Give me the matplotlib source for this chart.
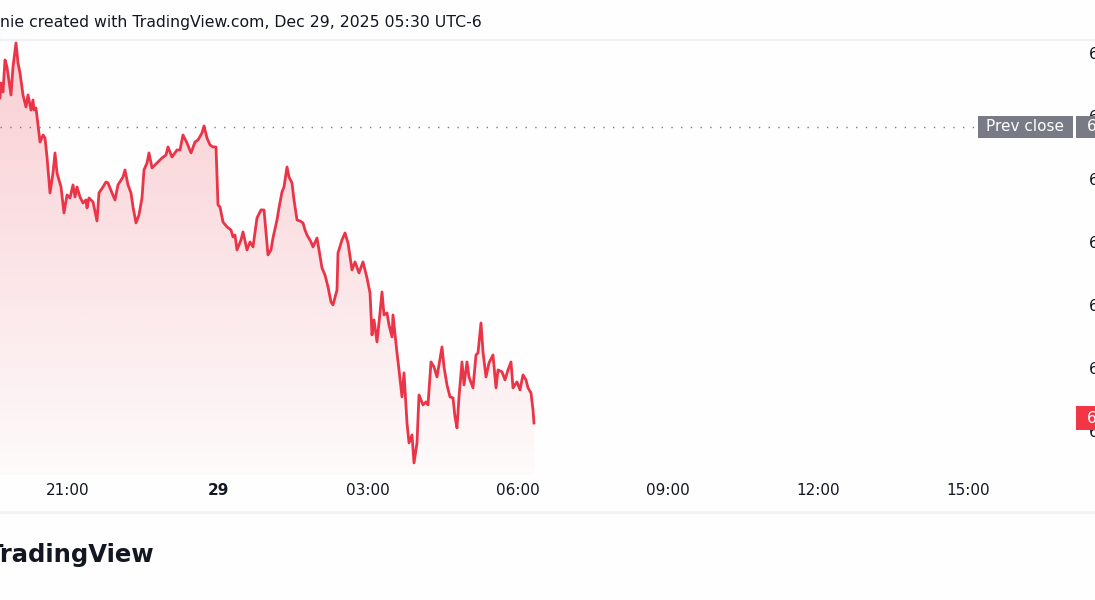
import matplotlib
matplotlib.use("Agg")
import matplotlib.pyplot as plt
import numpy as np
from matplotlib.lines import Line2D
from matplotlib.patches import Rectangle
from matplotlib.colors import to_rgb

# intraday series, time in hours from Dec 28 00:00 (24 = Dec 29 00:00)
hours = [
    19.64, 19.66, 19.70, 19.74, 19.78, 19.86, 19.90, 19.96, 20.00, 20.04,
    20.08, 20.10, 20.16, 20.20, 20.26, 20.30, 20.32, 20.36, 20.40, 20.44,
    20.50, 20.54, 20.58, 20.64, 20.70, 20.74, 20.78, 20.86, 20.92, 20.98,
    21.04, 21.10, 21.14, 21.18, 21.24, 21.30, 21.36, 21.38, 21.42, 21.50,
    21.58, 21.62, 21.70, 21.76, 21.80, 21.88, 21.94, 22.00, 22.10, 22.14,
    22.20, 22.26, 22.30, 22.36, 22.42, 22.48, 22.52, 22.58, 22.62, 22.68,
    22.74, 22.80, 22.88, 22.96, 23.00, 23.08, 23.18, 23.24, 23.30, 23.38,
    23.46, 23.54, 23.60, 23.68, 23.72, 23.78, 23.84, 23.90, 23.96, 24.00,
    24.04, 24.10, 24.18, 24.26, 24.30, 24.34, 24.38, 24.46, 24.50, 24.58,
    24.64, 24.70, 24.78, 24.86, 24.92, 24.96, 25.00, 25.06, 25.10, 25.18,
    25.22, 25.28, 25.32, 25.38, 25.42, 25.48, 25.52, 25.58, 25.64, 25.70,
    25.74, 25.78, 25.86, 25.90, 25.98, 26.02, 26.08, 26.14, 26.20, 26.26,
    26.30, 26.38, 26.40, 26.48, 26.54, 26.60, 26.68, 26.74, 26.82, 26.90,
    26.98, 27.04, 27.08, 27.12, 27.18, 27.24, 27.28, 27.32, 27.38, 27.42,
    27.48, 27.50, 27.58, 27.62, 27.68, 27.72, 27.78, 27.82, 27.88, 27.92,
    27.98, 28.02, 28.10, 28.16, 28.20, 28.26, 28.32, 28.38, 28.42, 28.48,
    28.52, 28.58, 28.64, 28.70, 28.74, 28.78, 28.82, 28.88, 28.92, 28.98,
    29.02, 29.10, 29.16, 29.20, 29.26, 29.30, 29.36, 29.42, 29.50, 29.56,
    29.60, 29.68, 29.74, 29.80, 29.86, 29.90, 29.98, 30.04, 30.10, 30.16,
    30.20, 30.26, 30.30, 30.32,
]
prices = [
    6982.86, 6985.24, 6983.81, 6988.89, 6987.78, 6983.33, 6987.78, 6991.59, 6988.41, 6986.83,
    6984.44, 6983.33, 6981.43, 6983.33, 6980.95, 6982.54, 6980.95, 6981.27, 6978.57, 6975.87,
    6976.98, 6976.51, 6973.49, 6967.78, 6970.95, 6974.13, 6970.95, 6968.73, 6964.60, 6967.46,
    6966.98, 6969.05, 6967.14, 6968.73, 6967.14, 6966.19, 6966.67, 6965.40, 6966.98, 6966.35,
    6963.33, 6967.78, 6968.73, 6969.52, 6969.37, 6967.78, 6966.67, 6969.05, 6970.32, 6971.43,
    6969.05, 6967.78, 6965.56, 6963.02, 6964.29, 6966.98, 6971.43, 6972.54, 6974.13, 6971.75,
    6972.22, 6972.70, 6973.33, 6973.81, 6975.08, 6973.49, 6974.60, 6974.60, 6976.98, 6975.71,
    6974.13, 6975.87, 6976.19, 6977.30, 6978.41, 6976.51, 6975.40, 6975.08, 6975.08, 6965.87,
    6965.56, 6963.17, 6962.38, 6961.90, 6960.79, 6961.11, 6958.73, 6960.32, 6961.59, 6958.73,
    6960.00, 6959.21, 6963.81, 6965.08, 6965.08, 6961.59, 6957.94, 6958.73, 6960.63, 6963.49,
    6965.40, 6967.94, 6968.73, 6971.90, 6970.32, 6969.37, 6966.67, 6963.49, 6963.33, 6963.02,
    6961.90, 6961.11, 6960.00, 6959.21, 6960.63, 6958.73, 6955.87, 6954.76, 6952.86, 6950.48,
    6950.00, 6952.38, 6958.25, 6960.32, 6961.43, 6959.84, 6955.56, 6956.83, 6955.08, 6956.83,
    6954.29, 6951.90, 6945.24, 6947.62, 6944.13, 6948.73, 6952.06, 6948.41, 6948.73, 6946.83,
    6944.92, 6948.41, 6942.38, 6939.68, 6935.40, 6939.21, 6931.27, 6928.10, 6929.37, 6924.92,
    6928.10, 6935.71, 6934.13, 6934.60, 6934.13, 6940.95, 6940.16, 6938.57, 6940.48, 6943.33,
    6940.16, 6937.30, 6935.40, 6935.24, 6932.22, 6930.48, 6935.40, 6940.95, 6937.30, 6940.95,
    6938.57, 6936.83, 6942.06, 6942.38, 6947.14, 6942.54, 6938.57, 6940.79, 6942.06, 6936.83,
    6939.68, 6939.37, 6938.10, 6939.68, 6940.95, 6936.83, 6937.78, 6936.51, 6938.89, 6938.10,
    6936.83, 6936.03, 6933.33, 6931.25,
]
prev_close = 6978.25
last_price = 6931.25

time_ticks = [21, 24, 27, 30, 33, 36, 39]
time_labels = ["21:00", "29", "03:00", "06:00", "09:00", "12:00", "15:00"]
price_ticks = [6990, 6980, 6970, 6960, 6950, 6940, 6930]

title = "nie created with TradingView.com, Dec 29, 2025 05:30 UTC-6"

RED = "#ea3448"
GREY = "#787b86"
TEXT = "#131722"
X_RANGE = (19.64, 41.14)
Y_RANGE = (6923.0, 6992.06)

W, H = 1095, 600
fig = plt.figure(figsize=(W / 100, H / 100), dpi=100, facecolor="#fefefe")
ax = fig.add_axes([0, (H - 475) / H, 1075 / W, (475 - 40) / H])
ax.set_facecolor("#fefefe")
for s in ax.spines.values():
    s.set_visible(False)

# gradient area under the line
poly = ax.fill_between(hours, prices, Y_RANGE[0], color="none", lw=0)
grad = np.zeros((256, 1, 4))
grad[..., :3] = to_rgb(RED)
grad[..., 3] = np.linspace(0.24, 0.02, 256)[:, None]
im = ax.imshow(grad, extent=[X_RANGE[0], X_RANGE[1], Y_RANGE[0], max(prices)],
               aspect="auto", origin="upper", zorder=1)
im.set_clip_path(poly.get_paths()[0], transform=ax.transData)
ax.set_xlim(*X_RANGE)
ax.set_ylim(*Y_RANGE)

ax.plot(hours, prices, color=RED, lw=2.0, solid_joinstyle="round", zorder=3)

# prev close dotted line
ax.axhline(prev_close, xmin=0, xmax=975 / 1075, color=GREY, lw=1,
           linestyle=(0, (1, 6)), zorder=2)

ax.set_xticks(time_ticks)
ax.set_xticklabels(time_labels)
ax.tick_params(axis="x", length=0, pad=6, labelsize=11, labelcolor=TEXT)
for lbl in ax.get_xticklabels():
    if lbl.get_text() == "29":
        lbl.set_fontweight("bold")

ax.yaxis.tick_right()
ax.set_yticks(price_ticks)
ax.set_yticklabels([f"{p:,.2f}" for p in price_ticks])
ax.tick_params(axis="y", length=0, pad=10, labelsize=11, labelcolor=TEXT)


# price-scale labels: box in pixel coords, value text clipped by the edge
def to_px_y(price):
    return ax.transData.transform((0, price))[1]


def scale_label(x0, x1, yc, h, color, text, tx, ha="left"):
    fig.add_artist(Rectangle((x0 / W, (yc - h / 2) / H), (x1 - x0) / W, h / H,
                             transform=fig.transFigure, fc=color, ec="none",
                             zorder=5))
    fig.text(tx / W, yc / H, text, color="white", fontsize=11, ha=ha,
             va="center", zorder=6)


y_prev = to_px_y(prev_close)
scale_label(978, 1073, y_prev, 22, GREY, "Prev close", 1025.5, ha="center")
scale_label(1076, W, y_prev, 22, GREY, f"{prev_close:,.2f}", 1087)
scale_label(1076, W, to_px_y(last_price) + 5, 24, "#f23645",
            f"{last_price:,.2f}", 1087)

# separators
fig.add_artist(Line2D([0, 1], [(H - 40) / H] * 2, color="#eef0f4", lw=1.5))
fig.add_artist(Line2D([0, 1], [(H - 512) / H] * 2, color="#f0f2f5", lw=2))

fig.text(0, (H - 22) / H, title, fontsize=11.3, color=TEXT, ha="left", va="center")
fig.text(-13 / W, (H - 555) / H, "TradingView", fontsize=17.5, fontweight="bold",
         color=TEXT, ha="left", va="center")

fig.savefig("out.png", dpi=100, facecolor=fig.get_facecolor())
